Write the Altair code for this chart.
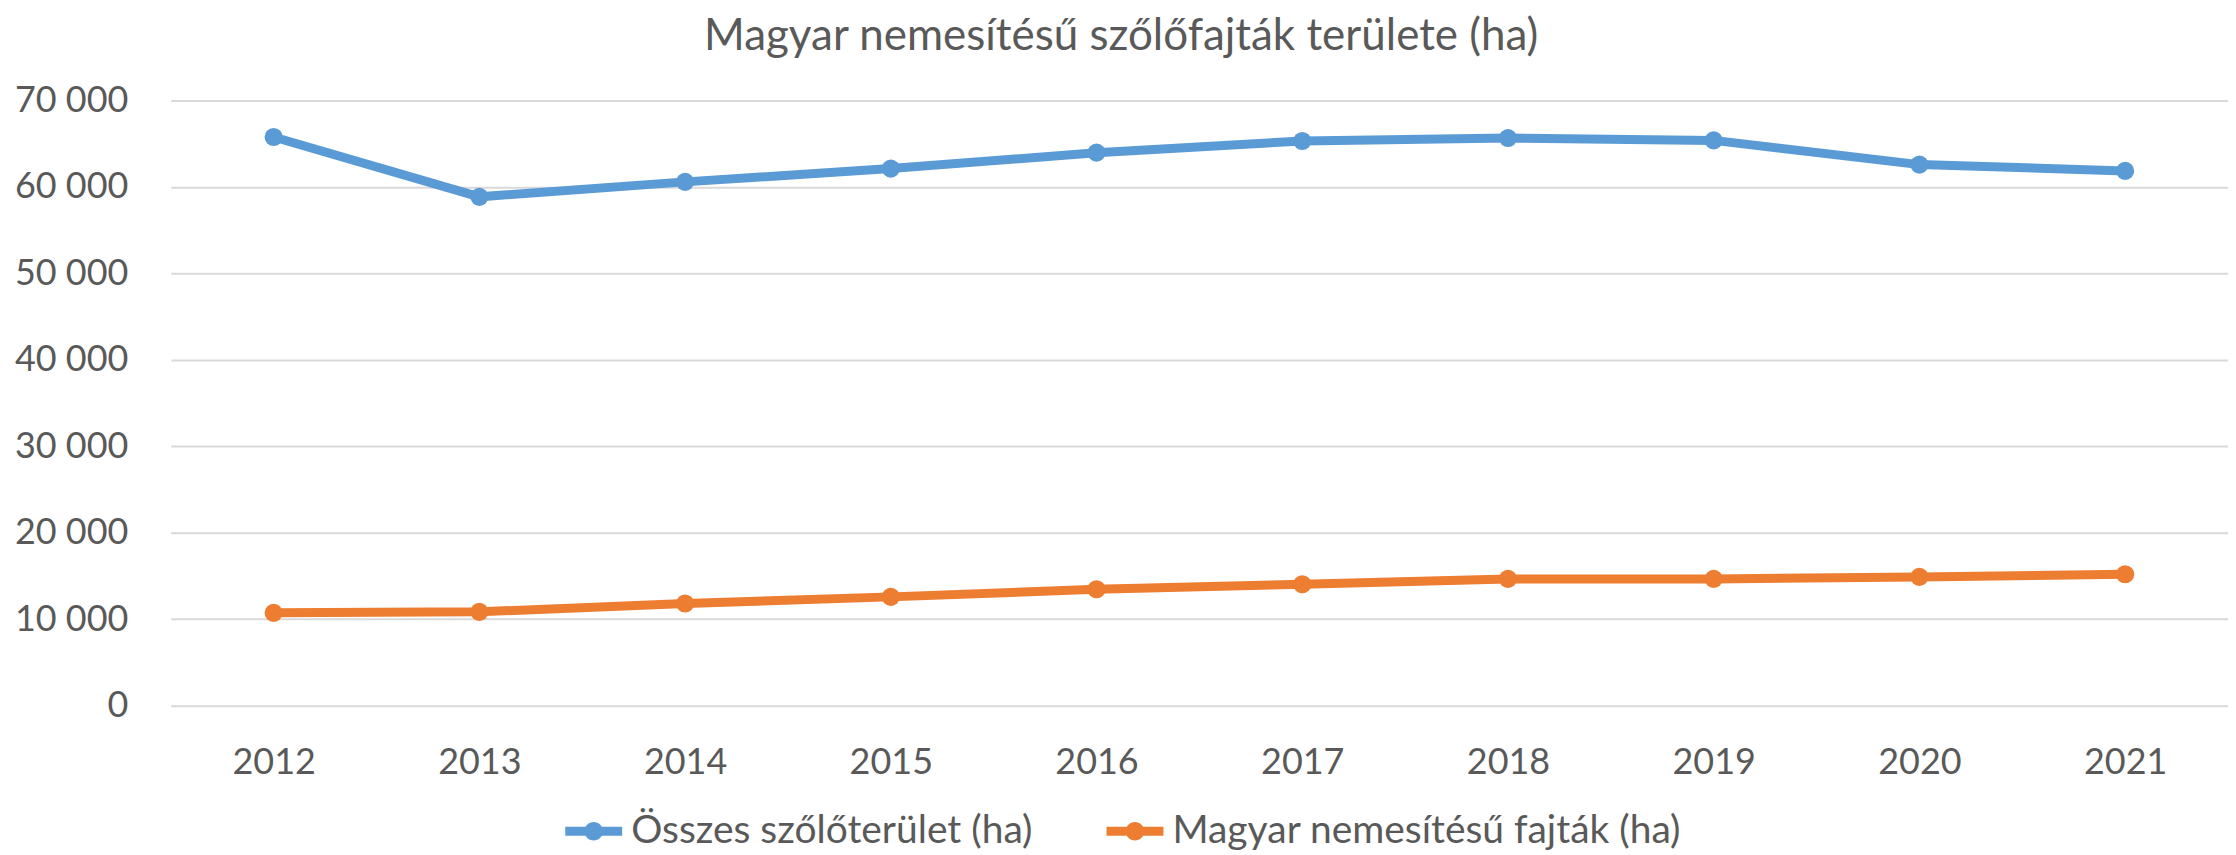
import altair as alt
import pandas as pd

years = ["2012", "2013", "2014", "2015", "2016", "2017", "2018", "2019", "2020", "2021"]
osszes = [65770, 58850, 60580, 62120, 63960, 65310, 65650, 65380, 62580, 61850]
magyar = [10730, 10850, 11810, 12580, 13460, 14040, 14660, 14660, 14890, 15200]
series_names = ["Összes szőlőterület (ha)", "Magyar nemesítésű fajták (ha)"]
colors = ["#5B9BD5", "#ED7D31"]
y_ticks = [0, 10000, 20000, 30000, 40000, 50000, 60000, 70000]
title_text = "Magyar nemesítésű szőlőfajták területe (ha)"

df = pd.DataFrame({
    "year": years + years,
    "value": osszes + magyar,
    "series": [series_names[0]] * len(years) + [series_names[1]] * len(years),
})

FONT = "Lato"
TXT = "#595959"

x = alt.X("year:O", sort=years,
          scale=alt.Scale(type="point", padding=0.5),
          axis=alt.Axis(title=None, labelAngle=0, ticks=False, domain=False,
                        labelPadding=40, labelFontSize=36, labelFont=FONT,
                        labelColor=TXT, grid=False))
y = alt.Y("value:Q",
          scale=alt.Scale(domain=[0, 70000], nice=False),
          axis=alt.Axis(title=None, values=y_ticks, ticks=False, domain=False,
                        labelExpr="datum.value == 0 ? '0' : format(datum.value / 1000, 'd') + ' 000'",
                        labelPadding=43, labelFontSize=36, labelFont=FONT, labelColor=TXT,
                        gridColor="#D9D9D9", gridWidth=2))

sym = "M-1.9,-0.3H1.9V0.3H-1.9Z M0.62,0A0.62,0.62,0,1,1,-0.62,0A0.62,0.62,0,1,1,0.62,0Z"
color = alt.Color("series:N",
                  scale=alt.Scale(domain=series_names, range=colors),
                  legend=alt.Legend(title=None, orient="none", direction="horizontal",
                                    legendX=404, legendY=712,
                                    symbolType=sym, symbolSize=900, symbolStrokeWidth=0,
                                    labelFontSize=39, labelFont=FONT, labelColor=TXT,
                                    labelOffset=18, columnPadding=74,
                                    labelLimit=1000))

line = alt.Chart(df).mark_line(strokeWidth=9).encode(x=x, y=y, color=color)
pts = alt.Chart(df).mark_circle(size=330, opacity=1).encode(x=x, y=y, color=color)

chart = alt.layer(line, pts).properties(
    width=2060, height=606,
    padding={"left": 6, "top": 6, "right": 0, "bottom": 0},
    title=alt.Title(title_text, fontSize=44, font=FONT, color=TXT, fontWeight="normal",
                    anchor="middle", frame="bounds", offset=24),
).configure_view(stroke=None)

chart.save("out.html", embed_options={"renderer": "svg", "actions": False})
